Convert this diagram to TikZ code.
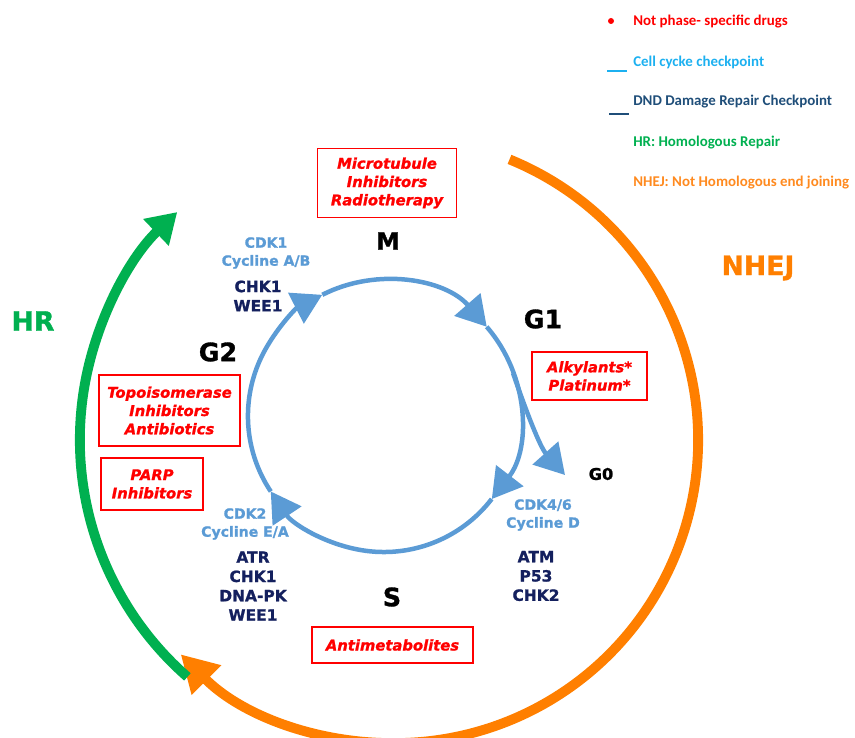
\documentclass[tikz,border=0pt]{standalone}
\usepackage{fontspec}
\usepackage{xcolor}
\usepackage{tikz}
\usetikzlibrary{arrows.meta,positioning}
\newfontfamily\dvs{DejaVu Sans Bold}[FakeBold=1.2]
\newfontfamily\dvsit{DejaVu Sans Bold Oblique}[FakeBold=1.2]
\newfontfamily\legfont{Carlito}
\definecolor{drugred}{HTML}{FF0000}
\definecolor{cycblue}{HTML}{5B9BD5}
\definecolor{chknavy}{HTML}{14205E}
\definecolor{nhejorange}{HTML}{FF7F00}
\definecolor{hrgreen}{HTML}{00B050}
\definecolor{legblue}{HTML}{1CB0F0}
\definecolor{legdark}{HTML}{1F4E79}
\definecolor{legorange}{HTML}{FF8A1F}
\tikzset{
  drugbox/.style={draw=drugred, line width=1.1pt, text=drugred, align=center, inner sep=1pt,
    font=\dvsit\fontsize{10.5}{13}\selectfont},
  phase/.style={text=black, font=\dvs\fontsize{18}{20}\selectfont},
  cdk/.style={text=cycblue, align=center, font=\dvs\fontsize{10}{12.8}\selectfont},
  chk/.style={text=chknavy, align=center, font=\dvs\fontsize{11}{13.7}\selectfont},
  repair/.style={font=\dvs\fontsize{19}{21}\selectfont},
  legtext/.style={anchor=west, inner sep=0pt, font=\legfont\bfseries\fontsize{10.6}{13}\selectfont},
  cycarr/.style={-{Triangle[length=21pt,width=24pt]}, line width=3.2pt, draw=cycblue},
  nhejarr/.style={-{Triangle[length=26pt,width=28pt]}, line width=7pt, draw=nhejorange},
  hrarr/.style={-{Triangle[length=21pt,width=25pt]}, line width=7pt, draw=hrgreen}
}
\begin{document}
\begin{tikzpicture}[x=0.025cm, y=0.025cm]
  \useasboundingbox (0,0) rectangle (855,737);

  % outer repair arcs
  \coordinate (oS) at (509.5,577.6);
  \coordinate (gS) at (187.4,60.1);
  \draw[nhejarr] (oS) arc[start angle=67.8, end angle=-135, radius=7.575cm];
  \draw[hrarr] (gS) arc[start angle=228.8, end angle=133.7, radius=7.875cm];
  \node[repair, text=nhejorange] (nhej) at (758,469) {NHEJ};
  \node[repair, text=hrgreen] (hr) at (33,416) {HR};

  % cell cycle
  \coordinate (tS) at (270.8,245.5);
  \coordinate (tM) at (322.3,442.2);
  \coordinate (tG1) at (486.7,410.2);
  \coordinate (tG2) at (491.7,238.0);
  \coordinate (bG0) at (513,364);
  \coordinate (tG0) at (565,262);
  \draw[cycarr] (tS) arc[start angle=213.7, end angle=117, radius=3.4cm];
  \draw[cycarr] (tM) arc[start angle=117, end angle=41, radius=3.4cm];
  \draw[cycarr] (tG1) arc[start angle=41, end angle=-37.6, radius=3.4cm];
  \draw[cycarr] (tG2) arc[start angle=-37.6, end angle=-146.3, radius=3.4cm];
  \draw[cycarr] (bG0) .. controls (526,326) and (540,290) .. (tG0);

  % phases
  \node[phase, font=\dvs\fontsize{17}{20}\selectfont] (pM) at (388,496) {M};
  \node[phase] (pG1) at (543,418) {G1};
  \node[phase] (pG2) at (218,385) {G2};
  \node[phase] (pS) at (392,140) {S};
  \node[phase, font=\dvs\fontsize{11.5}{12}\selectfont] (pG0) at (601,263) {G0};

  % checkpoints
  \node[cdk] (cdkM) at (266,484) {CDK1\\Cycline A/B};
  \node[chk] (chkM) at (258,441) {CHK1\\WEE1};
  \node[cdk] (cdkG1) at (543,222) {CDK4/6\\Cycline D};
  \node[chk] (chkG1) at (536,161) {ATM\\P53\\CHK2};
  \node[cdk] (cdkS) at (245,213) {CDK2\\Cycline E/A};
  \node[chk] (chkS) at (253,151) {ATR\\CHK1\\DNA-PK\\WEE1};

  % drugs
  \node[drugbox, minimum width=3.475cm, minimum height=1.725cm] (dM) at (387,554) {Microtubule\\Inhibitors\\Radiotherapy};
  \node[drugbox, minimum width=2.875cm, minimum height=1.2cm] (dG1) at (589.5,361) {Alkylants*\\Platinum*};
  \node[drugbox, minimum width=3.525cm, minimum height=1.775cm] (dTopo) at (169.5,326.5) {Topoisomerase\\Inhibitors\\Antibiotics};
  \node[drugbox, minimum width=2.55cm, minimum height=1.3cm] (dParp) at (152,253) {PARP\\Inhibitors};
  \node[drugbox, minimum width=4.025cm, minimum height=0.9cm] (dS) at (392.5,92) {Antimetabolites};

  % legend
  \fill[drugred] (611,716) circle (0.075cm);
  \draw[legblue, line width=1.4pt] (607,666) -- (627,666);
  \draw[legdark, line width=1.4pt] (609,623) -- (629,623);
  \node[legtext, text=drugred] (l1) at (633,715) {Not phase- specific drugs};
  \node[legtext, text=legblue] (l2) at (633,675) {Cell cycke checkpoint};
  \node[legtext, text=legdark] (l3) at (633,635) {DND Damage Repair Checkpoint};
  \node[legtext, text=hrgreen] (l4) at (633,594) {HR: Homologous Repair};
  \node[legtext, text=legorange] (l5) at (633,554) {NHEJ: Not Homologous end joining};
\end{tikzpicture}
\end{document}
